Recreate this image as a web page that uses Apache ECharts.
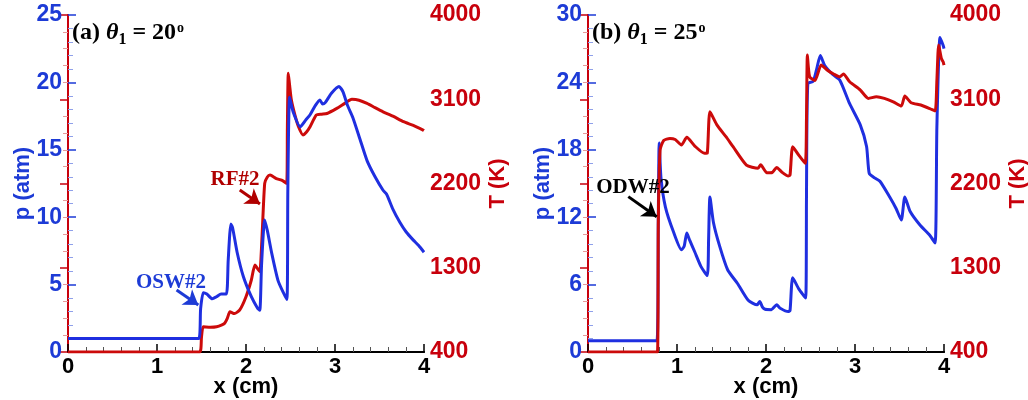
<!DOCTYPE html>
<html>
<head>
<meta charset="utf-8">
<title>p and T along x</title>
<script src="https://cdn.jsdelivr.net/npm/echarts@6.0.0/dist/echarts.min.js"></script>
<style>
html, body { margin: 0; padding: 0; background: #fff; }
#chart { width: 1028px; height: 400px; }
</style>
</head>
<body>
<div id="chart"></div>
<script>
// panel (a), theta1 = 20 deg
var xA_p = [0, 1.47, 1.49, 1.52, 1.56, 1.62, 1.67, 1.72, 1.78, 1.80, 1.83, 1.85, 1.90, 1.97, 2.06, 2.13, 2.155, 2.175, 2.21, 2.24,
    2.29, 2.36, 2.42, 2.46, 2.47, 2.49, 2.53, 2.61, 2.67, 2.72, 2.78, 2.83, 2.86, 2.89, 2.96, 3.045, 3.09, 3.14, 3.2, 3.28,
    3.36, 3.45, 3.54, 3.58, 3.65, 3.73, 3.80, 3.88, 3.94, 4.0];
var pA = [1.0, 1.0, 3.2, 4.4, 4.3, 3.95, 4.1, 4.3, 4.3, 6.8, 9.5, 9.2, 7.4, 5.6, 4.1, 3.25, 3.1, 6.5, 9.8, 9.0,
    7.3, 5.3, 4.4, 3.9, 12.0, 18.9, 17.8, 16.7, 17.2, 17.6, 18.3, 18.7, 18.4, 18.5, 19.2, 19.7, 19.3, 18.3, 17.4, 15.8,
    14.2, 13.0, 12.0, 11.7, 10.6, 9.6, 8.9, 8.3, 7.9, 7.4];
var xA_T = [0, 1.48, 1.50, 1.52, 1.60, 1.67, 1.73, 1.76, 1.79, 1.82, 1.87, 1.93, 2.0, 2.06, 2.10, 2.13, 2.155, 2.18, 2.21, 2.24,
    2.27, 2.34, 2.40, 2.457, 2.465, 2.475, 2.49, 2.51, 2.55, 2.59, 2.64, 2.68, 2.72, 2.79, 2.85, 2.91, 3.02, 3.11, 3.19, 3.27,
    3.36, 3.45, 3.54, 3.65, 3.77, 3.88, 3.99, 4.0];
var TA = [400, 400, 560, 670, 665, 670, 690, 707, 760, 830, 810, 850, 991, 1169, 1329, 1290, 1258, 1631, 2202, 2270,
    2290, 2253, 2235, 2202, 2800, 3377, 3250, 3091, 2930, 2806, 2718, 2750, 2806, 2931, 2940, 2948, 3003, 3056, 3099, 3090,
    3056, 3010, 2966, 2920, 2860, 2820, 2771, 2765];

// panel (b), theta1 = 25 deg
var xB_p = [0, 0.775, 0.79, 0.80, 0.82, 0.87, 0.96, 1.05, 1.08, 1.11, 1.14, 1.20, 1.27, 1.34, 1.355, 1.37, 1.41, 1.48, 1.57, 1.68,
    1.80, 1.90, 1.93, 1.96, 1.99, 2.06, 2.12, 2.16, 2.25, 2.27, 2.30, 2.37, 2.446, 2.455, 2.47, 2.53, 2.57, 2.61, 2.66, 2.75,
    2.83, 2.94, 3.06, 3.13, 3.16, 3.22, 3.28, 3.39, 3.46, 3.52, 3.56, 3.62, 3.73, 3.84, 3.90, 3.92, 3.955, 3.99, 4.0];
var pB = [1.0, 1.0, 12.0, 18.6, 15.5, 12.9, 10.7, 9.1, 9.4, 10.6, 10.0, 8.9, 7.6, 6.8, 10.0, 13.8, 11.5, 9.4, 7.3, 6.1,
    4.6, 4.2, 4.5, 4.0, 3.8, 3.77, 4.2, 3.9, 3.6, 3.7, 6.6, 5.6, 4.8, 14.0, 23.9, 24.1, 25.2, 26.4, 25.5, 24.7,
    24.2, 22.1, 20.2, 18.3, 15.9, 15.5, 15.2, 13.8, 12.8, 11.75, 13.8, 12.5, 11.3, 10.4, 9.7, 20.0, 28.0, 27.3, 27.0];
var xB_T = [0, 0.78, 0.79, 0.81, 0.85, 0.92, 0.98, 1.05, 1.11, 1.20, 1.31, 1.34, 1.37, 1.45, 1.55, 1.63, 1.78, 1.91, 1.94, 2.01,
    2.07, 2.12, 2.18, 2.25, 2.27, 2.30, 2.37, 2.44, 2.455, 2.465, 2.49, 2.55, 2.62, 2.69, 2.76, 2.83, 2.87, 2.94, 3.06, 3.15,
    3.24, 3.33, 3.43, 3.52, 3.56, 3.63, 3.74, 3.84, 3.90, 3.92, 3.94, 3.97, 3.99, 4.0];
var TB = [400, 400, 1800, 2557, 2660, 2682, 2670, 2611, 2693, 2600, 2522, 2525, 2966, 2824, 2700, 2593, 2397, 2362, 2400, 2315,
    2318, 2372, 2320, 2280, 2290, 2593, 2500, 2415, 2900, 3572, 3340, 3300, 3465, 3410, 3370, 3340, 3370, 3287, 3198, 3109,
    3127, 3110, 3073, 3027, 3134, 3063, 3038, 3000, 2974, 3300, 3679, 3537, 3500, 3465];

// axes
var X_MAX = 4, X_STEP = 1;
var P_MAX_A = 25, P_STEP_A = 5;
var P_MAX_B = 30, P_STEP_B = 6;
var T_MIN = 400, T_MAX = 4000, T_STEP = 900;   // T axis is drawn as T - T_MIN so ticks start at 0

// annotations: [text, textX, textY, arrowFromX, arrowFromY, arrowToX, arrowToY]
var noteA_p = ['OSW#2', 1.157, 5.12, 1.22, 4.6, 1.464, 3.49];
var noteA_T = ['RF#2', 1.876, 2237, 1.93, 2130, 2.157, 1981];
var noteB_p = ['ODW#2', 0.506, 14.6, 0.453, 13.83, 0.772, 12.04];

var BLUE = '#1d3bd6', RED = '#c8000c', LBLUE = '#1f2fe0', LRED = '#cc0a0a';
var SANS = 'Liberation Sans', SERIF = 'Liberation Serif';

function pairs(xs, ys, off) {
    return xs.map(function (x, i) { return [x, ys[i] - (off || 0)]; });
}

function note(n, color, off) {
    off = off || 0;
    return {
        markPoint: {
            silent: true, symbol: 'rect', symbolSize: 1, itemStyle: {color: 'transparent'},
            label: {show: true, position: 'inside', align: 'center', verticalAlign: 'middle',
                formatter: n[0], color: color, fontFamily: SERIF, fontWeight: 'bold', fontSize: 21},
            data: [{coord: [n[1], n[2] - off]}]
        },
        markLine: {
            silent: true, symbol: ['none', 'arrow'], symbolSize: 14,
            lineStyle: {color: color, width: 3, type: 'solid'}, label: {show: false},
            data: [[{coord: [n[3], n[4] - off]}, {coord: [n[5], n[6] - off]}]]
        }
    };
}

function xAxisFor(g) {
    return {
        type: 'value', gridIndex: g, min: 0, max: X_MAX, interval: X_STEP,
        name: 'x (cm)', nameLocation: 'middle', nameGap: 24, nameMoveOverlap: false,
        nameTextStyle: {color: '#000', fontFamily: SANS, fontWeight: 'bold', fontSize: 22},
        axisLine: {lineStyle: {color: '#000', width: 2}},
        axisTick: {inside: true, length: 8, lineStyle: {color: '#000', width: 1.5}},
        minorTick: {show: true, splitNumber: 5, length: 5, lineStyle: {color: '#555'}},
        axisLabel: {color: '#000', fontFamily: SANS, fontWeight: 'bold', fontSize: 22, margin: 4},
        splitLine: {show: false}
    };
}
function topFor(g) {
    return {
        type: 'value', gridIndex: g, position: 'top', min: 0, max: X_MAX,
        axisLine: {lineStyle: {color: '#000', width: 2}},
        axisTick: {show: false}, axisLabel: {show: false}, splitLine: {show: false}
    };
}
function pAxis(g, max, step) {
    return {
        type: 'value', gridIndex: g, position: 'left', min: 0, max: max, interval: step,
        name: 'p (atm)', nameLocation: 'middle', nameRotate: 90, nameGap: 34, nameMoveOverlap: false,
        nameTextStyle: {color: BLUE, fontFamily: SANS, fontWeight: 'bold', fontSize: 22},
        axisLine: {lineStyle: {color: BLUE, width: 2}},
        axisTick: {inside: true, length: 8, lineStyle: {color: BLUE, width: 1.5}},
        minorTick: {show: true, splitNumber: 5, length: 5, lineStyle: {color: '#8fa0ea'}},
        axisLabel: {color: BLUE, fontFamily: SANS, fontWeight: 'bold', fontSize: 23, margin: 6},
        splitLine: {show: false}
    };
}
function tAxis(g) {
    return {
        type: 'value', gridIndex: g, position: 'right', min: 0, max: T_MAX - T_MIN, interval: T_STEP,
        name: 'T (K)', nameLocation: 'middle', nameRotate: 90, nameGap: 63, nameMoveOverlap: false,
        nameTextStyle: {color: RED, fontFamily: SANS, fontWeight: 'bold', fontSize: 22},
        axisLine: {lineStyle: {color: RED, width: 2}},
        axisTick: {inside: true, length: 8, lineStyle: {color: RED, width: 1.5}},
        minorTick: {show: true, splitNumber: 5, length: 5, lineStyle: {color: '#e69a9a'}},
        axisLabel: {color: RED, fontFamily: SANS, fontWeight: 'bold', fontSize: 23, margin: 6,
            formatter: function (v) { return String(v + T_MIN); }},
        splitLine: {show: false}
    };
}
function line(xi, yi, data, color, extra) {
    var s = {
        type: 'line', xAxisIndex: xi, yAxisIndex: yi, data: data, showSymbol: false,
        smooth: 0.2, lineStyle: {color: color, width: 3}, itemStyle: {color: color}
    };
    for (var k in extra) s[k] = extra[k];
    return s;
}

// sub/superscript by placing tokens at bottom/top of a 40px line
var rich = {
    n: {fontFamily: SERIF, fontWeight: 'bold', fontSize: 24, color: '#000', verticalAlign: 'middle'},
    i: {fontFamily: SERIF, fontWeight: 'bold', fontStyle: 'italic', fontSize: 24, color: '#000', verticalAlign: 'middle'},
    s: {fontFamily: SERIF, fontWeight: 'bold', fontSize: 16, color: '#000', lineHeight: 40, verticalAlign: 'bottom', padding: [0, 0, 5, 0]},
    o: {fontFamily: SERIF, fontWeight: 'bold', fontSize: 14, color: '#000', verticalAlign: 'top', padding: [8, 0, 0, 1]}
};

var chart = echarts.init(document.getElementById('chart'));
chart.setOption({
    animation: false,
    title: [
        {text: '{n|(a) }{i|θ}{s|1}{n| = 20}{o|o}', left: 72, top: 13, padding: 0, textStyle: {rich: rich}},
        {text: '{n|(b) }{i|θ}{s|1}{n| = 25}{o|o}', left: 592, top: 13, padding: 0, textStyle: {rich: rich}}
    ],
    grid: [
        {left: 68, top: 15, width: 356, height: 337, outerBoundsMode: 'none'},
        {left: 588, top: 15, width: 356, height: 337, outerBoundsMode: 'none'}
    ],
    xAxis: [xAxisFor(0), xAxisFor(1), topFor(0), topFor(1)],
    yAxis: [pAxis(0, P_MAX_A, P_STEP_A), tAxis(0), pAxis(1, P_MAX_B, P_STEP_B), tAxis(1)],
    series: [
        line(0, 1, pairs(xA_T, TA, T_MIN), LRED, note(noteA_T, '#b00000', T_MIN)),
        line(0, 0, pairs(xA_p, pA), LBLUE, note(noteA_p, BLUE)),
        line(1, 2, pairs(xB_p, pB), LBLUE, note(noteB_p, '#000')),
        line(1, 3, pairs(xB_T, TB, T_MIN), LRED, {})
    ]
});
</script>
</body>
</html>
